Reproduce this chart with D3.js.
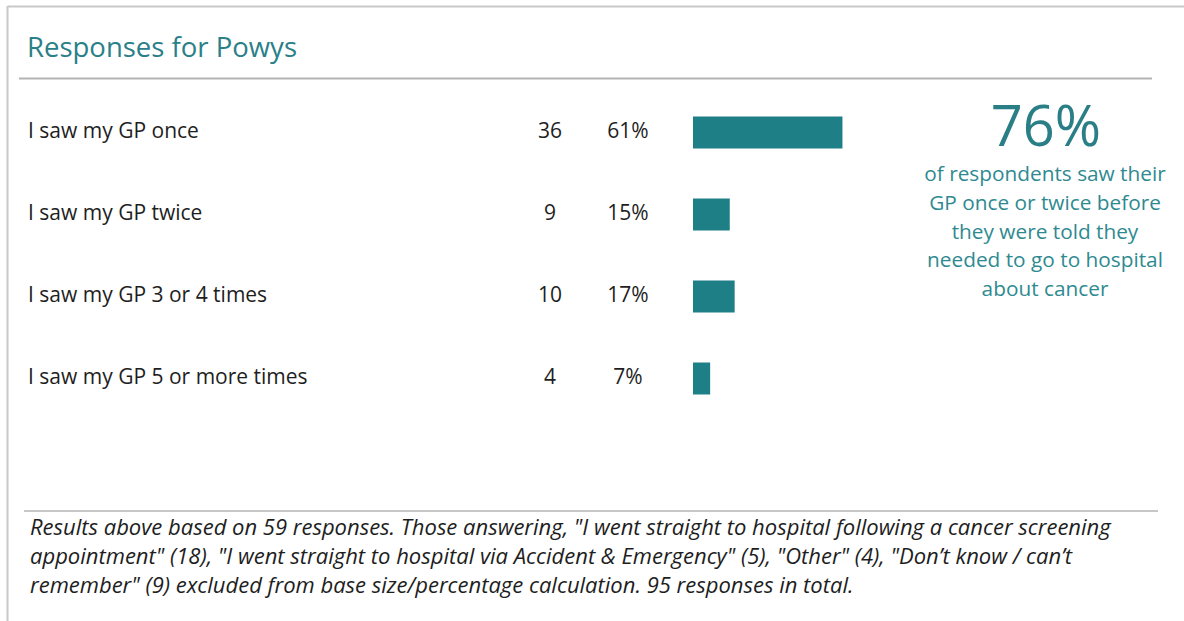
<!DOCTYPE html>
<html><head><meta charset="utf-8">
<script src="https://cdn.jsdelivr.net/npm/d3@7"></script>
<style>
html,body{margin:0;padding:0;background:#fff;}
svg{display:block;font-family:"Open Sans", Lato, sans-serif;}
</style></head>
<body>
<svg id="c" width="1184" height="621"></svg>
<script>
const title = "Responses for Powys";
const categories = ["I saw my GP once","I saw my GP twice","I saw my GP 3 or 4 times","I saw my GP 5 or more times"];
const counts = [36, 9, 10, 4];
const percents = [61, 15, 17, 7];
const calloutValue = "76%";
const calloutLines = ["of respondents saw their","GP once or twice before","they were told they","needed to go to hospital","about cancer"];
const footnoteLines = [
 "Results above based on 59 responses. Those answering, \"I went straight to hospital following a cancer screening",
 "appointment\" (18), \"I went straight to hospital via Accident & Emergency\" (5), \"Other\" (4), \"Don\u2019t know / can\u2019t",
 "remember\" (9) excluded from base size/percentage calculation. 95 responses in total."
];

const svg = d3.select("#c");
const teal = "#1f7f87";
const txt = "#1e1e1e";

svg.append("line").attr("x1",7.5).attr("x2",1184).attr("y1",6.5).attr("y2",6.5).attr("stroke","#c8c8c8").attr("stroke-width",2);
svg.append("line").attr("x1",7.5).attr("x2",7.5).attr("y1",6).attr("y2",621).attr("stroke","#c8c8c8").attr("stroke-width",2);
svg.append("line").attr("x1",19).attr("x2",1152).attr("y1",78.5).attr("y2",78.5).attr("stroke","#b4b4b4").attr("stroke-width",2);
svg.append("line").attr("x1",24).attr("x2",1158).attr("y1",511).attr("y2",511).attr("stroke","#b4b4b4").attr("stroke-width",1.5);

svg.append("text").attr("x",27).attr("y",47).attr("dy","0.35em")
  .attr("font-size",27.5).attr("fill","#2a8088").text(title);

const data = categories.map((c,i)=>({cat:c,count:counts[i],pct:percents[i]}));
const y = d3.scalePoint().domain(categories).range([132.5,378.5]);
const x = d3.scaleLinear().domain([0,100]).range([693,938]);
const barH = 32;

const rows = svg.append("g").selectAll("g").data(data).join("g");
rows.append("text").attr("x",28).attr("y",d=>y(d.cat)-2).attr("dy","0.35em")
  .attr("font-size",21).attr("fill",txt).text(d=>d.cat);
rows.append("text").attr("x",550).attr("y",d=>y(d.cat)-2).attr("dy","0.35em").attr("text-anchor","middle")
  .attr("font-size",21).attr("fill",txt).text(d=>d.count);
rows.append("text").attr("x",628).attr("y",d=>y(d.cat)-2).attr("dy","0.35em").attr("text-anchor","middle")
  .attr("font-size",21).attr("fill",txt).text(d=>d.pct+"%");
rows.append("rect").attr("x",x(0)).attr("y",d=>y(d.cat)-barH/2)
  .attr("width",d=>x(d.pct)-x(0)).attr("height",barH).attr("fill",teal);

svg.append("text").attr("x",1046).attr("y",126).attr("dy","0.35em").attr("text-anchor","middle")
  .attr("font-size",56).attr("fill","#2a7f86").text(calloutValue);
svg.append("g").selectAll("text").data(calloutLines).join("text")
  .attr("x",1045).attr("y",(d,i)=>174+i*28.7).attr("dy","0.35em").attr("text-anchor","middle")
  .attr("font-size",20.8).attr("fill","#2e8a90").text(d=>d);

svg.append("g").selectAll("text").data(footnoteLines).join("text")
  .attr("x",30).attr("y",(d,i)=>527+i*29).attr("dy","0.35em")
  .attr("font-size",22).attr("font-style","italic").attr("fill",txt).text(d=>d);
</script>
</body></html>
